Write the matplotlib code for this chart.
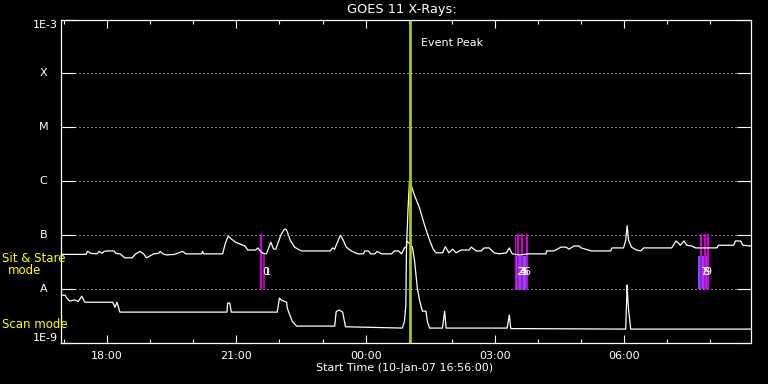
import numpy as np
import pandas as pd
import matplotlib
matplotlib.use('Agg')
import matplotlib.pyplot as plt
import matplotlib.dates as mdates

# GOES 11 long channel (upper curve)
long_time = ['16:56', '17:31', '17:33', '17:38', '17:46', '17:49', '17:53', '17:56', '18:00',
             '18:10', '18:12', '18:18', '18:25', '18:35', '18:40', '18:46', '18:51', '18:55',
             '19:01', '19:05', '19:12', '19:14', '19:18', '19:23', '19:34', '19:45', '19:50',
             '20:12', '20:13', '20:15', '20:41', '20:44', '20:47', '20:49', '20:53', '20:59',
             '21:06', '21:12', '21:16', '21:27', '21:30', '21:34', '21:37', '21:42', '21:48',
             '21:52', '21:55', '21:57', '22:02', '22:06', '22:09', '22:11', '22:15', '22:21',
             '22:28', '22:31', '23:11', '23:14', '23:17', '23:19', '23:25', '23:29', '23:33',
             '23:40', '23:49', '23:57', '23:59', '00:04', '00:07', '00:13', '00:16', '00:22',
             '00:36', '00:40', '00:46', '00:50', '00:54', '00:57', '00:59', '01:01', '01:04',
             '01:08', '01:15', '01:22', '01:29', '01:34', '01:38', '01:47', '01:51', '01:56',
             '02:01', '02:06', '02:13', '02:24', '02:27', '02:34', '02:41', '02:45', '02:52',
             '02:59', '03:06', '03:16', '03:20', '03:24', '03:34', '03:47', '04:11', '04:12',
             '04:22', '04:32', '04:39', '04:43', '04:50', '04:57', '05:00', '05:14', '05:41',
             '05:43', '05:59', '06:02', '06:04', '06:06', '06:10', '06:17', '06:23', '06:27',
             '07:06', '07:12', '07:16', '07:18', '07:23', '07:27', '07:34', '07:39', '08:09',
             '08:11', '08:32', '08:35', '08:42', '08:45', '08:56']
long_flux = [4.4e-8, 4.4e-8, 5.0e-8, 4.6e-8, 4.5e-8, 5.0e-8, 4.6e-8, 5.0e-8, 5.1e-8,
             5.1e-8, 4.6e-8, 4.5e-8, 3.8e-8, 3.8e-8, 4.5e-8, 5.0e-8, 4.5e-8, 3.8e-8,
             4.2e-8, 4.5e-8, 4.6e-8, 5.0e-8, 4.5e-8, 4.3e-8, 4.4e-8, 5.0e-8, 4.5e-8,
             4.5e-8, 5.0e-8, 4.5e-8, 4.5e-8, 6.5e-8, 8.5e-8, 9.6e-8, 8.5e-8, 7.4e-8,
             6.8e-8, 6.3e-8, 5.3e-8, 5.3e-8, 5.8e-8, 5.0e-8, 4.6e-8, 4.5e-8, 7.4e-8,
             5.5e-8, 5.5e-8, 6.5e-8, 1.0e-7, 1.25e-7, 1.3e-7, 1.15e-7, 8.1e-8, 6.0e-8,
             5.3e-8, 5.1e-8, 5.1e-8, 5.8e-8, 5.5e-8, 6.5e-8, 1.0e-7, 8.0e-8, 6.0e-8,
             5.1e-8, 4.5e-8, 4.5e-8, 5.1e-8, 5.1e-8, 4.5e-8, 4.5e-8, 5.0e-8, 4.5e-8,
             4.5e-8, 5.1e-8, 5.1e-8, 4.5e-8, 5.8e-8, 6.1e-8, 3.0e-7, 9.8e-7, 8.0e-7,
             5.5e-7, 3.2e-7, 1.54e-7, 8.1e-8, 5.5e-8, 4.7e-8, 4.7e-8, 6.1e-8, 4.7e-8,
             5.5e-8, 4.7e-8, 5.3e-8, 5.3e-8, 6.0e-8, 5.1e-8, 5.1e-8, 5.8e-8, 5.8e-8,
             4.7e-8, 4.5e-8, 4.7e-8, 5.8e-8, 4.5e-8, 4.3e-8, 4.5e-8, 4.5e-8, 5.1e-8,
             5.1e-8, 6.0e-8, 6.0e-8, 5.5e-8, 6.3e-8, 6.3e-8, 5.8e-8, 5.1e-8, 5.1e-8,
             5.8e-8, 5.8e-8, 8.0e-8, 1.5e-7, 8.1e-8, 6.0e-8, 5.3e-8, 5.1e-8, 5.8e-8,
             5.8e-8, 7.8e-8, 7.0e-8, 6.5e-8, 7.8e-8, 6.5e-8, 6.3e-8, 5.8e-8, 5.8e-8,
             6.5e-8, 6.5e-8, 7.8e-8, 7.8e-8, 6.5e-8, 6.3e-8]

# short channel (lower curve)
short_time = ['16:56', '17:02', '17:04', '17:08', '17:15', '17:20', '17:25', '17:29', '18:08',
              '18:11', '18:14', '18:18', '20:47', '20:48', '20:51', '20:53', '21:57', '22:00',
              '22:03', '22:10', '22:11', '22:18', '22:24', '23:17', '23:19', '23:23', '23:28',
              '23:32', '00:51', '00:54', '00:56', '00:57', '01:01', '01:05', '01:08', '01:12',
              '01:15', '01:19', '01:24', '01:26', '01:29', '01:47', '01:50', '01:52', '03:17',
              '03:20', '03:22', '06:02', '06:04', '06:05', '06:06', '06:09', '08:56']
short_flux = [7.7e-9, 7.7e-9, 6.8e-9, 6.0e-9, 6.3e-9, 5.9e-9, 7.4e-9, 5.7e-9, 5.7e-9,
              4.6e-9, 5.7e-9, 3.74e-9, 3.74e-9, 5.5e-9, 5.5e-9, 3.74e-9, 3.74e-9, 6.8e-9,
              6.2e-9, 5.7e-9, 4.4e-9, 2.5e-9, 2.06e-9, 2.06e-9, 3.8e-9, 4.1e-9, 3.74e-9,
              2.0e-9, 1.89e-9, 2.5e-9, 5.0e-9, 7.8e-8, 7.0e-8, 6.1e-8, 3.45e-8, 1.04e-8,
              6.25e-9, 3.9e-9, 3.9e-9, 2.5e-9, 1.89e-9, 1.89e-9, 3.9e-9, 1.89e-9, 1.89e-9,
              3.3e-9, 1.85e-9, 1.81e-9, 1.19e-8, 6.25e-9, 4.1e-9, 1.81e-9, 1.81e-9]

level_vals = [1e-9, 1e-8, 1e-7, 1e-6, 1e-5, 1e-4, 1e-3]
level_labels = ['1E-9', 'A', 'B', 'C', 'M', 'X', '1E-3']

peak_time = '01:02'
scan_full = ['21:35', '03:28', '03:32', '03:38', '03:44', '07:47', '07:52', '07:57']
scan_half = ['21:38']
scan_bands = [('03:30', '03:45'), ('07:43', '07:58')]
scan_labels = ['0', '1', '2', '3', '4', '5', '6', '7', '8', '9']
label_time = ['21:36', '21:38', '03:30', '03:32', '03:34', '03:37', '03:40', '07:46', '07:48', '07:51']

t0 = pd.Timestamp('2007-01-10 16:56')
t1 = t0 + pd.Timedelta(hours=16)


def to_time(s):
    t = pd.Timestamp('2007-01-10 ' + s)
    if t.hour < 16:
        t += pd.Timedelta(days=1)
    return t


def conv(lst):
    return [to_time(s) for s in lst]


fig = plt.figure(figsize=(7.68, 3.84), dpi=100, facecolor='black')
ax = fig.add_axes([0.0794, 0.1068, 0.8981, 0.8424], facecolor='black')
ax.set_yscale('log')
ax.set_ylim(1e-9, 1e-3)
ax.set_xlim(t0, t1)

# dotted level lines
for v in level_vals[1:-1]:
    ax.axhline(v, xmin=0.02, xmax=0.98, color='white', lw=0.72, ls=(0, (1, 3)))

# scan markers
for a, b in scan_bands:
    ax.fill_between([to_time(a), to_time(b)], 1e-8, 4.1e-8, color='#6060ff', lw=0)
for i, s in enumerate(scan_full):
    lw = 0.8 if s == '03:28' else 1.6
    ax.plot([to_time(s)] * 2, [1e-7, 1e-8], color='#d000d0', lw=lw)
for s in scan_half:
    ax.plot([to_time(s)] * 2, [4.3e-8, 1e-8], color='#d000d0', lw=1.2)

ax.plot(conv(long_time), long_flux, color='white', lw=0.9)
ax.plot(conv(short_time), short_flux, color='white', lw=0.9)

for lbl, s in zip(scan_labels, label_time):
    ax.text(to_time(s), 2.1e-8, lbl, color='white', fontsize=8, ha='left', va='center')

pk = to_time(peak_time)
ax.axvline(pk, color='#a0cc00', lw=2)
ax.annotate('Event Peak', xy=(pk, 3.7e-4), xytext=(7.5, 0), textcoords='offset points',
            color='white', fontsize=8, va='center')

# axes styling
for sp in ax.spines.values():
    sp.set_color('white')
    sp.set_linewidth(0.9)
ax.xaxis.set_major_locator(mdates.HourLocator(byhour=[0, 3, 6, 9, 12, 15, 18, 21]))
ax.xaxis.set_minor_locator(mdates.HourLocator())
ax.xaxis.set_major_formatter(mdates.DateFormatter('%H:%M'))
ax.tick_params(axis='x', which='major', direction='in', length=5.5, width=0.8, colors='white',
               top=True, labelsize=8, pad=6)
ax.tick_params(axis='x', which='minor', direction='in', length=3, width=0.8, colors='white', top=True)
ax.set_yticks(level_vals)
ax.yaxis.set_minor_locator(matplotlib.ticker.NullLocator())
ax.tick_params(axis='y', which='major', direction='in', length=10, width=0.8, colors='white',
               right=True, labelleft=False)

for v, lbl in zip(level_vals, level_labels):
    if lbl == '1E-3':
        ax.annotate(lbl, xy=(0, v), xycoords=('axes fraction', 'data'), xytext=(-2, 0),
                    textcoords='offset points', ha='right', va='top', color='white', fontsize=8)
    elif lbl == '1E-9':
        ax.annotate(lbl, xy=(0, v), xycoords=('axes fraction', 'data'), xytext=(-2, 0),
                    textcoords='offset points', ha='right', va='bottom', color='white', fontsize=8)
    else:
        ax.annotate(lbl, xy=(0, v), xycoords=('axes fraction', 'data'), xytext=(-12.5, 0),
                    textcoords='offset points', ha='center', va='center', color='white', fontsize=8)

fig.text(0.523, 0.974, 'GOES 11 X-Rays:', color='white', fontsize=9.3, ha='center', va='center')
fig.text(0.527, 0.042, 'Start Time (10-Jan-07 16:56:00)', color='white', fontsize=8, ha='center', va='center')
fig.text(2 / 768, 1 - 259 / 384, 'Sit & Stare', color='yellow', fontsize=8.5, ha='left', va='center')
fig.text(24.5 / 768, 1 - 271 / 384, 'mode', color='yellow', fontsize=8.5, ha='center', va='center')
fig.text(2 / 768, 1 - 324 / 384, 'Scan mode', color='yellow', fontsize=8.5, ha='left', va='center')

fig.savefig('out.png', dpi=100, facecolor='black')
